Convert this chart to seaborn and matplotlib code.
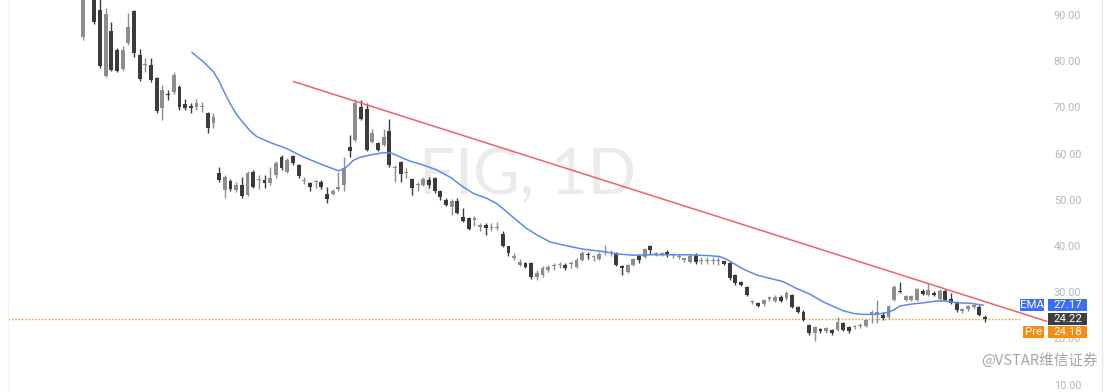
import numpy as np
import pandas as pd
import matplotlib
matplotlib.use("Agg")
import matplotlib.pyplot as plt
import matplotlib.transforms as mtransforms
from matplotlib.patches import Rectangle
import seaborn as sns

# ---------------- data ----------------
open_ = [85.2, 94.5, 96.0, 91.1, 76.8, 86.6, 82.4, 78.3, 83.9, 90.9,
         81.3, 79.1, 79.2, 76.4, 69.9, 72.9, 73.3, 74.4, 70.7, 70.3,
         70.1, 70.0, 68.8, 66.6, 55.7, 52.1, 54.1, 52.1, 53.2, 51.0,
         56.1, 54.2, 54.3, 53.6, 55.4, 59.2, 56.1, 59.5, 57.5, 54.0,
         53.6, 53.8, 53.9, 51.2, 51.3, 52.3, 53.2, 61.5, 62.9, 70.0,
         69.6, 62.6, 62.2, 61.9, 65.0, 56.9, 58.1, 55.8, 54.4, 53.1,
         53.2, 54.3, 54.7, 51.8, 50.0, 48.5, 49.8, 46.2, 46.0, 45.7,
         44.2, 44.5, 43.9, 43.9, 42.7, 39.9, 37.5, 35.9, 36.3, 36.3,
         33.4, 33.7, 34.7, 35.6, 35.8, 35.9, 36.0, 35.5, 37.0, 38.2,
         37.6, 37.1, 38.7, 38.5, 38.4, 35.7, 34.4, 35.9, 37.8, 37.6,
         39.9, 38.2, 38.2, 38.8, 38.0, 37.6, 37.0, 36.6, 38.1, 36.7,
         36.7, 36.7, 36.7, 36.8, 36.3, 33.7, 32.3, 31.2, 27.8, 27.6,
         27.4, 28.6, 28.2, 29.0, 28.7, 29.4, 26.7, 25.8, 22.9, 21.1,
         21.9, 21.5, 21.8, 21.9, 23.3, 22.4, 22.4, 22.6, 22.7, 25.1,
         25.1, 25.1, 24.6, 28.3, 30.2, 28.3, 28.3, 28.3, 30.3, 29.4,
         29.9, 28.5, 30.3, 28.5, 27.9, 26.0, 26.3, 26.7, 26.9, 24.7]
high = [96.0, 99.0, 97.0, 93.5, 91.5, 88.5, 82.8, 83.3, 90.5, 91.0,
        82.6, 80.7, 80.7, 76.6, 74.8, 73.8, 77.7, 74.8, 71.8, 70.9,
        71.8, 71.2, 69.0, 68.8, 57.2, 55.4, 54.6, 53.9, 55.0, 56.3,
        56.4, 55.4, 55.4, 57.2, 58.3, 59.6, 59.0, 59.8, 57.8, 55.0,
        53.9, 54.3, 54.2, 52.8, 52.3, 56.1, 59.3, 64.0, 71.8, 71.5,
        71.0, 65.3, 62.5, 65.3, 67.6, 57.5, 58.4, 56.9, 54.7, 53.8,
        55.0, 55.0, 55.0, 52.2, 50.4, 50.1, 50.4, 48.2, 46.3, 46.5,
        45.0, 45.0, 45.0, 45.3, 43.2, 40.1, 38.4, 37.1, 36.6, 36.5,
        34.8, 35.6, 35.8, 36.3, 36.5, 36.3, 36.8, 37.3, 39.0, 38.6,
        38.1, 38.6, 40.2, 39.1, 38.7, 35.9, 36.2, 37.4, 38.3, 39.6,
        40.2, 38.8, 38.8, 39.2, 38.5, 38.2, 37.5, 38.2, 38.5, 37.6,
        37.6, 37.6, 37.6, 37.0, 36.5, 33.9, 32.5, 31.4, 28.4, 27.8,
        28.6, 29.2, 29.3, 29.3, 30.2, 29.7, 27.0, 26.1, 23.2, 22.7,
        22.3, 22.5, 22.1, 24.7, 23.6, 22.7, 23.0, 23.3, 24.3, 26.1,
        28.3, 25.8, 27.3, 31.6, 32.3, 29.5, 29.5, 30.9, 30.6, 32.0,
        30.2, 30.6, 30.6, 29.8, 28.2, 26.6, 27.3, 27.5, 27.3, 25.1]
low = [84.6, 93.6, 88.0, 78.5, 76.5, 77.8, 77.6, 77.8, 83.5, 81.0,
       75.8, 77.7, 75.6, 68.8, 67.3, 71.6, 72.8, 69.5, 69.4, 68.8,
       69.4, 69.0, 64.5, 65.5, 53.9, 50.4, 51.8, 51.6, 50.5, 50.8,
       52.5, 52.3, 52.6, 53.3, 54.8, 56.5, 55.8, 57.5, 54.8, 53.4,
       51.8, 52.5, 52.3, 49.3, 51.0, 52.0, 51.8, 59.3, 62.5, 67.3,
       60.5, 62.2, 60.5, 61.6, 57.2, 53.9, 53.9, 54.7, 51.0, 51.8,
       53.0, 52.6, 51.5, 50.0, 48.7, 46.7, 47.0, 45.3, 43.4, 44.3,
       43.3, 42.4, 43.3, 43.5, 39.8, 37.8, 36.9, 35.6, 35.2, 32.9,
       32.7, 33.2, 34.4, 34.9, 35.2, 34.9, 35.2, 35.2, 36.8, 37.2,
       36.7, 36.9, 38.1, 37.8, 35.7, 33.7, 34.1, 35.6, 36.3, 37.3,
       38.3, 37.8, 37.8, 37.6, 37.5, 37.2, 36.6, 36.3, 36.2, 36.2,
       36.2, 36.2, 35.8, 35.9, 32.7, 31.6, 31.3, 29.1, 27.5, 26.7,
       27.1, 28.0, 27.9, 27.9, 28.4, 26.6, 25.5, 23.7, 20.7, 19.5,
       21.2, 21.2, 20.8, 21.6, 21.6, 21.2, 22.0, 22.2, 22.4, 23.3,
       23.3, 23.9, 24.3, 28.0, 29.8, 28.0, 28.0, 28.0, 29.3, 29.1,
       29.1, 28.2, 28.0, 27.4, 25.8, 25.5, 26.0, 26.4, 24.8, 23.6]
close = [95.0, 97.5, 88.5, 79.0, 90.2, 78.1, 77.9, 82.4, 87.4, 81.8,
         76.1, 79.4, 75.9, 69.2, 73.8, 72.6, 77.0, 70.1, 69.9, 69.9,
         71.0, 70.2, 65.5, 67.9, 54.3, 55.0, 52.3, 53.2, 50.8, 55.9,
         52.8, 54.4, 53.6, 54.7, 57.9, 56.8, 58.6, 57.9, 55.2, 54.2,
         52.7, 54.0, 52.7, 50.2, 52.0, 52.8, 56.8, 60.6, 70.9, 67.6,
         60.8, 64.4, 60.8, 63.7, 57.5, 57.2, 55.5, 56.1, 52.5, 53.3,
         54.4, 53.2, 51.8, 50.7, 48.9, 49.8, 47.2, 45.5, 43.6, 45.9,
         44.4, 44.0, 44.1, 44.1, 40.0, 38.4, 37.7, 36.6, 35.5, 33.4,
         34.1, 35.2, 35.5, 35.8, 36.0, 35.2, 36.2, 37.0, 38.4, 38.0,
         37.8, 38.3, 38.9, 38.7, 35.9, 35.2, 35.9, 37.1, 37.0, 39.3,
         39.1, 38.4, 38.4, 38.1, 38.2, 37.8, 37.2, 37.8, 36.6, 36.9,
         36.9, 36.9, 36.9, 36.1, 33.0, 31.9, 31.6, 29.4, 28.0, 27.0,
         28.3, 28.8, 29.0, 28.2, 29.9, 26.9, 25.8, 24.0, 21.1, 22.4,
         21.7, 22.2, 21.1, 23.6, 21.9, 21.5, 22.6, 22.8, 24.0, 25.8,
         25.8, 24.4, 27.0, 31.2, 30.0, 29.2, 29.2, 30.6, 29.6, 30.5,
         29.4, 30.3, 28.3, 27.7, 26.1, 26.2, 27.0, 27.2, 25.1, 24.22]

# EMA line (bar position, value)
ema_bar = [19.2, 21.2, 23.0, 23.9, 24.7, 25.9, 27.1, 28.3, 29.4, 30.6,
           33.0, 35.9, 38.8, 42.4, 45.0, 45.9, 46.8, 47.6, 48.8, 50.6,
           52.9, 54.4, 55.9, 57.6, 60.0, 62.3, 64.7, 67.0, 68.8, 71.2,
           72.9, 74.7, 76.4, 78.2, 80.0, 82.3, 84.7, 88.2, 91.7, 94.1,
           97.0, 99.9, 103.4, 107.0, 110.5, 112.3, 113.5, 114.6, 116.4,
           118.8, 121.1, 123.4, 125.8, 128.1, 130.5, 132.3, 134.0, 135.8,
           137.5, 139.9, 141.7, 142.8, 144.0, 145.8, 148.1, 150.5, 152.3,
           154.0, 156.4, 158.7]
ema_val = [81.9, 79.9, 77.7, 75.9, 73.8, 70.9, 68.4, 66.6, 65.0, 63.7,
           62.4, 61.1, 59.3, 57.5, 56.3, 56.6, 57.5, 58.5, 59.2, 59.7,
           60.2, 60.1, 59.3, 58.4, 57.5, 56.5, 54.9, 52.8, 51.4, 50.3,
           49.2, 47.4, 45.6, 43.8, 42.4, 40.9, 40.2, 39.3, 38.8, 38.3,
           38.0, 38.1, 38.1, 38.1, 37.9, 37.7, 37.1, 36.3, 35.0,
           33.7, 33.0, 32.3, 30.8, 29.6, 27.9, 26.9, 26.0, 25.4,
           25.2, 25.2, 25.6, 26.1, 27.0, 27.4, 27.7, 28.1, 28.1,
           27.7, 27.6, 27.2]

# hand-drawn trend line (bar position, price)
trend_bar = [37.1, 169.9]
trend_val = [75.6, 23.7]

ema_last = 27.17
last_price = 24.22
pre_price = 24.18
yticks = [10, 20, 30, 40, 50, 60, 70, 80, 90]
watermark = "FIG, 1D"
credit = "@VSTAR维信证券"

# ---------------- styling ----------------
sns.set_theme(style="white")
plt.rcParams["font.family"] = ["Roboto", "Noto Sans CJK SC", "DejaVu Sans"]

W, H = 1110, 392
fig = plt.figure(figsize=(W / 100, H / 100), dpi=100)
fig.patch.set_facecolor("white")
ax_left, ax_right = 8, 1102
ax = fig.add_axes([ax_left / W, 0, (ax_right - ax_left) / W, 1])
ax.set_facecolor("white")

def fx(px):
    return (px - ax_left) / (ax_right - ax_left)

n = len(close)
x = np.arange(n)
o = np.array(open_)
c = np.array(close)
hi = np.array(high)
lo = np.array(low)
up = c >= o
col_up, col_dn = "#8e8e8e", "#3b3b3b"
colors = np.where(up, col_up, col_dn)

ax.vlines(x, lo, hi, colors=colors, linewidth=1.0, zorder=3)
body_low = np.minimum(o, c)
body_h = np.maximum(np.abs(c - o), 0.3)
ax.bar(x, body_h, bottom=body_low, width=0.68, color=colors,
       linewidth=0, zorder=4)

ema_df = pd.DataFrame({"bar": ema_bar, "ema": ema_val})
sns.lineplot(data=ema_df, x="bar", y="ema", ax=ax, color="#5b8af5",
             linewidth=1.1, zorder=5)
trend_df = pd.DataFrame({"bar": trend_bar, "price": trend_val})
sns.lineplot(data=trend_df, x="bar", y="price", ax=ax, color="#f2606f",
             linewidth=1.1, zorder=5)

ax.axhline(pre_price, xmin=0, xmax=fx(1020), color="#f3a33c",
           linestyle=(0, (1.2, 1.2)), linewidth=1.0, zorder=2)

ax.set_xlim((ax_left - 83) / 5.673, (ax_right - 83) / 5.673)
ax.set_ylim(8.4, 93.25)

# watermark
ax.text(fx(528), 1 - 176 / H, watermark, transform=ax.transAxes,
        ha="center", va="center", fontsize=46, color="#ebebeb",
        family=["Lato", "DejaVu Sans"], zorder=0)

# axis: price labels inside on the right
ax.yaxis.tick_right()
ax.set_yticks(yticks)
ax.set_yticklabels([f"{v:.2f}" for v in yticks])
ax.tick_params(axis="y", length=0, pad=-15, labelsize=7.8,
               labelcolor="#b4b7be")
for t in ax.get_yticklabels():
    t.set_horizontalalignment("right")
ax.set_xticks([])
ax.set_xlabel("")
ax.set_ylabel("")
for s in ["top", "bottom"]:
    ax.spines[s].set_visible(False)
ax.spines["left"].set_color("#f3f3f3")
ax.spines["right"].set_color("#e9e9e9")
ax.spines["left"].set_linewidth(1)
ax.spines["right"].set_linewidth(1)

# price tags
blend = mtransforms.blended_transform_factory(ax.transAxes, ax.transData)
ppu = H / (93.25 - 8.4)
box_h = 12 / ppu

def tag(x0, x1, yval, text, face, dy_px=0):
    yc = yval - dy_px / ppu
    ax.add_patch(Rectangle((fx(x0), yc - box_h / 2), fx(x1) - fx(x0), box_h,
                           transform=blend, facecolor=face, edgecolor="none",
                           clip_on=False, zorder=8))
    ax.text((fx(x0) + fx(x1)) / 2, yc, text, transform=blend, ha="center",
            va="center", fontsize=8.2, color="white", zorder=9,
            clip_on=False)

tag(1020, 1044, ema_last, "EMA", "#3a6ff6")
tag(1048, 1087, ema_last, f"{ema_last:.2f}", "#3a6ff6")
tag(1048, 1087, last_price, f"{last_price:.2f}", "#3e3e3e")
tag(1023, 1044, pre_price, "Pre", "#fb8c10", dy_px=12.6)
tag(1048, 1087, pre_price, f"{pre_price:.2f}", "#fb8c10", dy_px=12.6)

# credit
fig.text(1098 / W, 1 - 360 / H, credit, ha="right", va="center",
         fontsize=10.5, color="#a6a6a6",
         family=["Noto Sans CJK SC", "DejaVu Sans"])

fig.savefig("out.png", dpi=100, facecolor="white")
